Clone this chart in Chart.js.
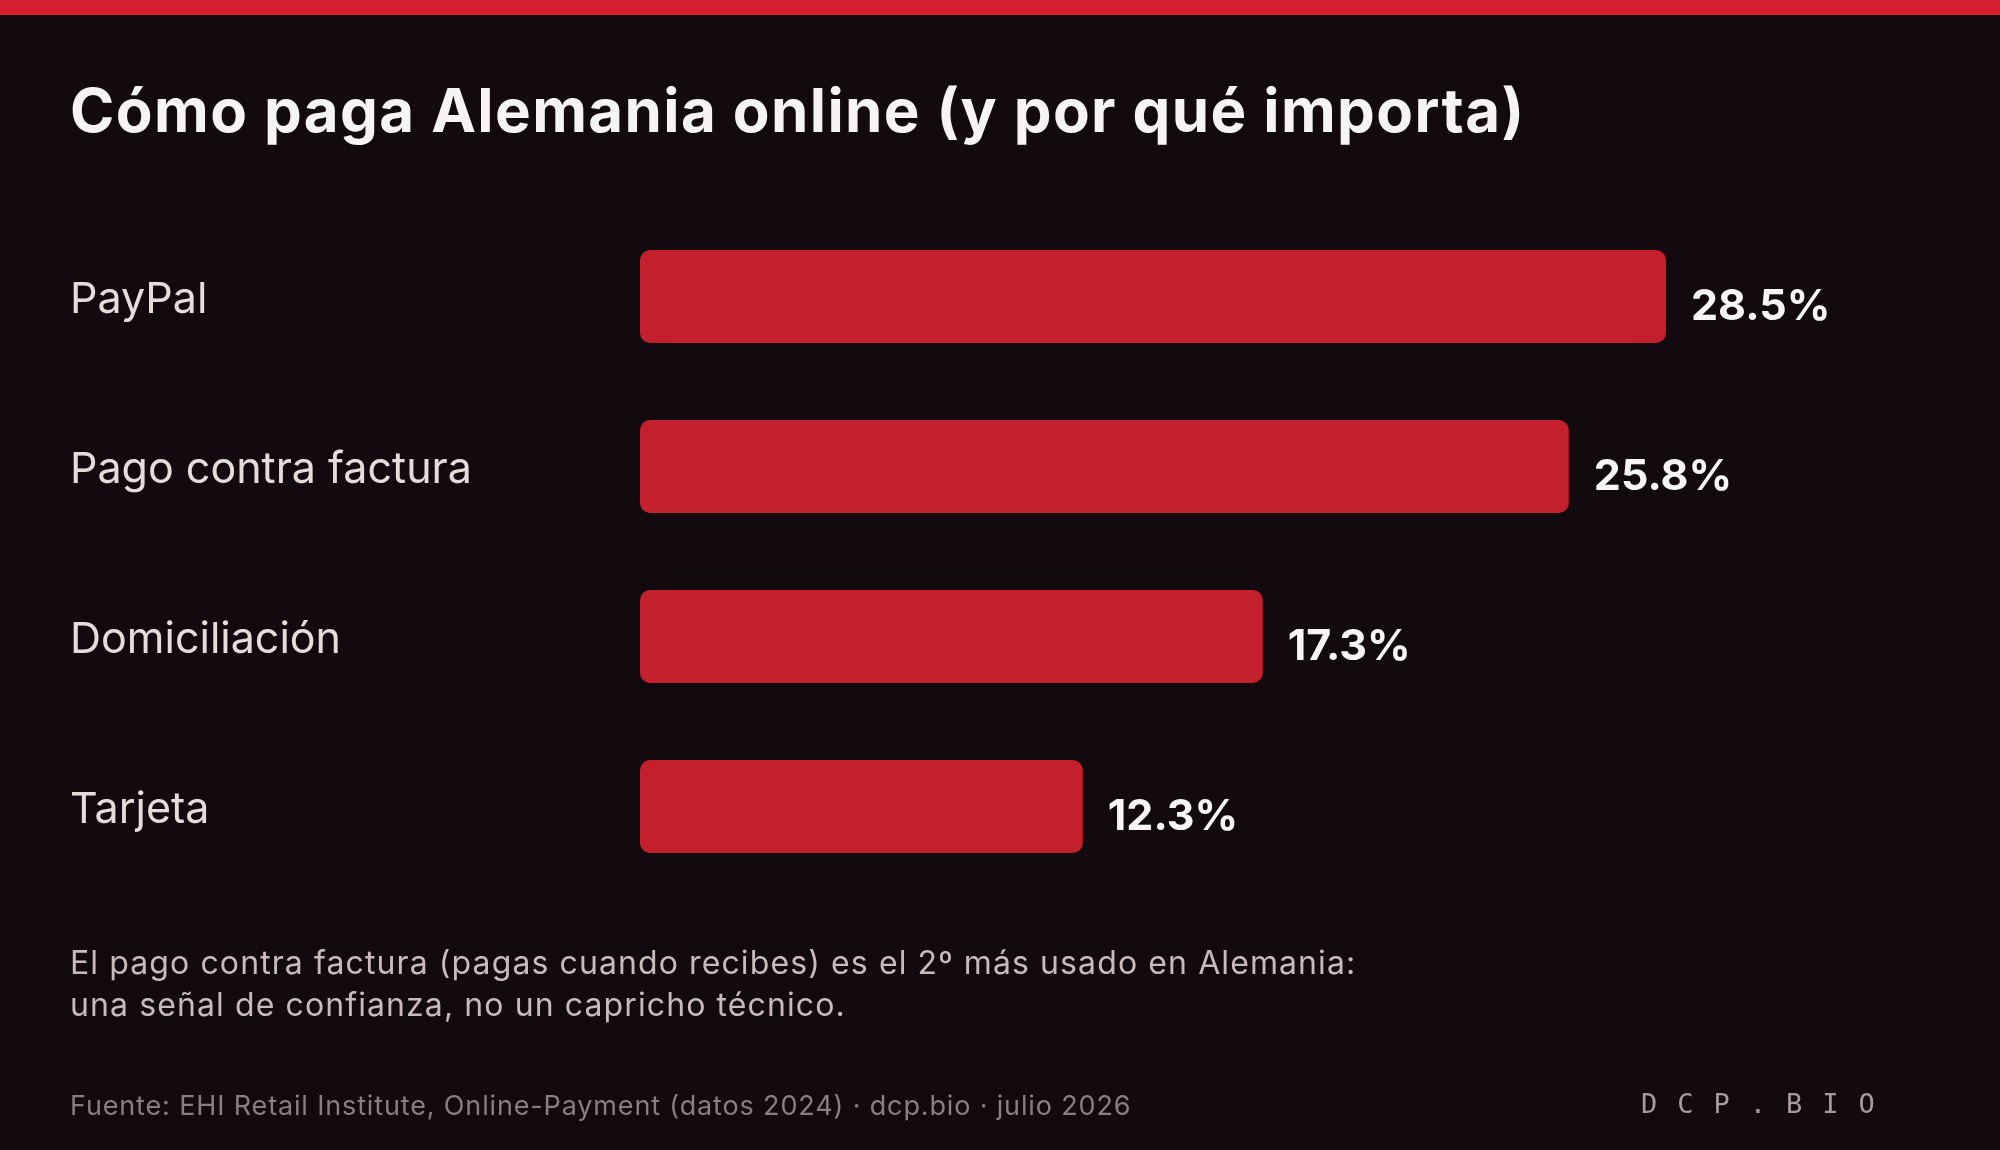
<!DOCTYPE html>
<html>
<head>
<meta charset="utf-8">
<script src="https://cdn.jsdelivr.net/npm/chart.js@4"></script>
<style>
  html, body { margin: 0; padding: 0; background: #120a0e; }
  #page { position: relative; width: 2000px; height: 1150px; overflow: hidden; background: #120a0e; font-family: Inter, "Noto Sans", sans-serif; }
  #topbar { position: absolute; left: 0; top: 0; width: 2000px; height: 15px; background: #d61f2e; }
  #title { position: absolute; left: 70px; top: 75px; font-size: 60px; line-height: 70px; font-weight: 700; color: #f5f3f5; white-space: nowrap; letter-spacing: 1.4px; }
  #chartBox { position: absolute; left: 0; top: 0; }
  #note { position: absolute; left: 70px; top: 942px; font-size: 32px; line-height: 42px; color: #c9babd; white-space: nowrap; letter-spacing: 1.1px; }
  #source { position: absolute; left: 70px; top: 1090px; font-size: 27px; line-height: 32px; color: #8a7e81; white-space: nowrap; letter-spacing: 0.85px; }
  #brand { position: absolute; left: 1641px; top: 1088px; font-family: "DejaVu Sans Mono", monospace; font-size: 27px; line-height: 32px; letter-spacing: 20px; color: #a89b9e; white-space: nowrap; }
</style>
</head>
<body>
<div id="page">
  <div id="topbar"></div>
  <div id="title">Cómo paga Alemania online (y por qué importa)</div>
  <canvas id="chartBox" width="2000" height="1150"></canvas>
  <div id="note">El pago contra factura (pagas cuando recibes) es el 2º más usado en Alemania:<br>una señal de confianza, no un capricho técnico.</div>
  <div id="source">Fuente: EHI Retail Institute, Online-Payment (datos 2024) · dcp.bio · julio 2026</div>
  <div id="brand">DCP.BIO</div>
</div>
<script>
// payment method shares, Germany online
const categories = ["PayPal", "Pago contra factura", "Domiciliación", "Tarjeta"];
const shares = [28.5, 25.8, 17.3, 12.3];
const axisMax = 30;

// writes "28.5%" next to each bar
const valueLabels = {
  id: "valueLabels",
  afterDatasetsDraw(chart) {
    const ctx = chart.ctx;
    const meta = chart.getDatasetMeta(0);
    ctx.save();
    ctx.font = "700 43px Inter, 'Noto Sans', sans-serif";
    ctx.fillStyle = "#f7f5f7";
    ctx.textAlign = "left";
    ctx.textBaseline = "middle";
    meta.data.forEach((bar, i) => {
      ctx.fillText(shares[i].toFixed(1) + "%", bar.x + 25, bar.y + 11);
    });
    ctx.restore();
  }
};

new Chart(document.getElementById("chartBox"), {
  type: "bar",
  data: {
    labels: categories,
    datasets: [{
      data: shares,
      backgroundColor: "#c41f2d",
      borderRadius: 10,
      borderSkipped: false,
      categoryPercentage: 1,
      barPercentage: 0.547
    }]
  },
  options: {
    indexAxis: "y",
    responsive: false,
    animation: false,
    layout: {
      padding: { left: 70, top: 211.5, bottom: 258.5, right: 280 }
    },
    scales: {
      x: {
        display: false,
        min: 0,
        max: axisMax
      },
      y: {
        grid: { display: false },
        border: { display: false },
        afterFit(axis) { axis.width = 570; },
        ticks: {
          crossAlign: "far",
          padding: 0,
          labelOffset: 4,
          color: "#e6dcdc",
          font: { family: "Inter, 'Noto Sans', sans-serif", size: 43 }
        }
      }
    },
    plugins: {
      legend: { display: false },
      tooltip: { enabled: false }
    }
  },
  plugins: [valueLabels]
});
</script>
</body>
</html>
